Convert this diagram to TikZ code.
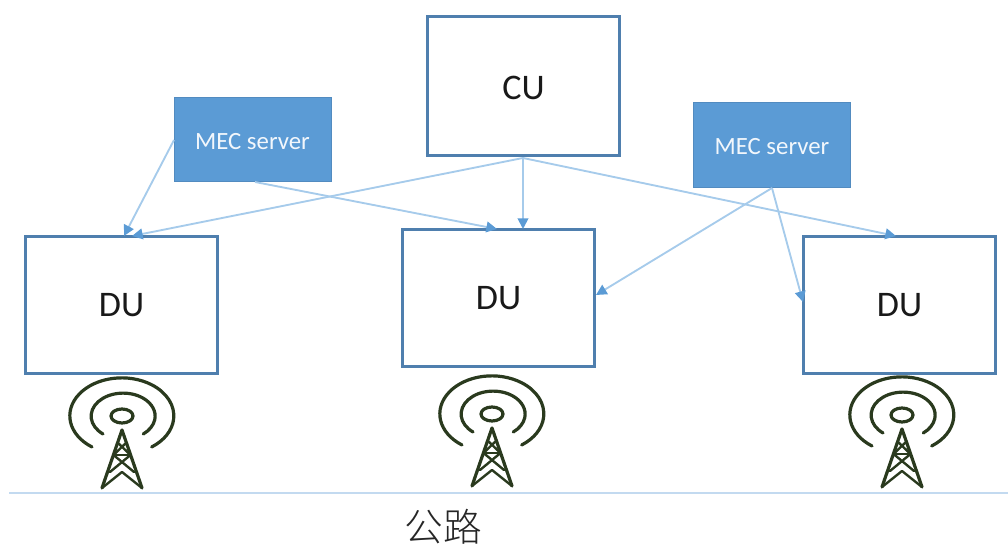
\documentclass[tikz,border=0pt]{standalone}
\usepackage{fontspec}
\setmainfont{Carlito}
\newfontfamily\cjk{Noto Sans CJK SC Light}
\usetikzlibrary{arrows.meta}
\definecolor{boxline}{HTML}{4F7FAE}
\definecolor{mecfill}{HTML}{5B9BD5}
\definecolor{linkline}{HTML}{A6CBEB}
\definecolor{roadline}{HTML}{C3DAF0}
\definecolor{towerline}{HTML}{2A3A1E}
\tikzset{
  x=0.75pt,y=0.75pt,
  unitbox/.style={draw=boxline,line width=2.6pt,fill=white,minimum width=144pt,minimum height=102.5pt,inner sep=0pt,font=\fontsize{27}{30}\selectfont,text=black!90},
  mecbox/.style={draw=mecfill!90!black,line width=.5pt,fill=mecfill,minimum width=117.5pt,minimum height=63.5pt,inner sep=0pt,text height=15pt,text=white!92!mecfill,font=\fontsize{18.6}{22}\selectfont},
  link/.style={draw=linkline,line width=1.4pt,-{Triangle[length=8pt,width=8pt,color=mecfill,fill=mecfill]}},
  towerpic/.pic={
    \begin{scope}[draw=towerline,line width=2.4pt,line cap=round,line join=round]
      \draw (-20,1) -- (0,59) -- (20,1);
      \draw[line width=1.8pt] (-8.5,34) -- (8.5,34);
      \draw[line width=1.8pt] (-20,1) -- (0,17) -- (20,1);
      \draw[line width=1.8pt] (-8.5,34) -- (12,17) (8.5,34) -- (-12,17);
      \draw[line width=1.8pt] (-4,46) -- (8.5,34) (4,46) -- (-8.5,34);
      \draw (0,73) ellipse [x radius=11,y radius=7];
      \draw (-19,55) arc [start angle=-129,end angle=-411,x radius=32,y radius=23];
      \draw (-30,42) arc [start angle=-125,end angle=-415,x radius=52,y radius=38];
    \end{scope}
  }
}
\begin{document}
\begin{tikzpicture}
\useasboundingbox (0,0) rectangle (1008,556);
\node[unitbox,minimum height=104.5pt,text height=20.4pt] (cu) at (523.5,470) {CU};
\node[unitbox] (du1) at (121.5,251) {DU};
\node[unitbox] (du2) at (498.5,258) {DU};
\node[unitbox] (du3) at (899.5,251) {DU};
\node[mecbox] (mec1) at (252.5,416.5) {MEC server};
\node[mecbox] (mec2) at (772,411) {MEC server};
\coordinate (cuout) at (523,398);
\coordinate (mec1l) at (174,416);
\coordinate (mec1b) at (255,374);
\coordinate (mec2b) at (772,368);
\coordinate (du1a) at (124,320);
\coordinate (du1b) at (132,320);
\coordinate (du2a) at (497,327);
\coordinate (du2b) at (523,327);
\coordinate (du2c) at (596,261);
\coordinate (du3a) at (896,320);
\coordinate (du3b) at (803,254);
\draw[link] (mec1l) -- (du1a);
\draw[link] (cuout) -- (du1b);
\draw[link] (mec1b) -- (du2a);
\draw[link] (cuout) -- (du2b);
\draw[link] (cuout) -- (du3a);
\draw[link] (mec2b) -- (du2c);
\draw[link] (mec2b) -- (du3b);
\coordinate (roadl) at (9,63);
\coordinate (roadr) at (1008,63);
\draw[roadline,line width=1.3pt] (roadl) -- (roadr);
\pic at (122,67) {towerpic};
\pic at (492,69) {towerpic};
\pic at (902,68) {towerpic};
\node[font=\cjk\fontsize{29}{31}\selectfont,text=black!85] (road) at (443,29) {公路};
\end{tikzpicture}
\end{document}
